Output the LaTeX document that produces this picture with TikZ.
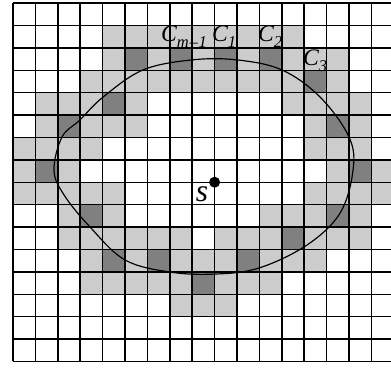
\documentclass[tikz,border=0pt]{standalone}
\usepackage{fontspec}
\setmainfont{Liberation Serif}
\newcommand\csub[1]{\raisebox{-3.8pt}{\fontsize{10.5}{11}\selectfont\itshape #1}}
\begin{document}
\begin{tikzpicture}[x=0.5cm,y=0.5cm,
  lightcell/.style={fill=black!20},
  darkcell/.style={fill=black!50},
  gridline/.style={line width=0.9pt, black},
  curveline/.style={line width=0.75pt, black},
  lab/.style={inner sep=0pt, anchor=base west, font=\fontsize{15}{16}\selectfont\itshape},
  ]
\useasboundingbox (-0.580,0.134) rectangle (16.875,-16.339);
\clip (-0.580,0.134) rectangle (16.875,-16.339);
% light cells: row/first col/last col
\foreach \r/\a/\b in {1/4/12, 2/4/14, 3/3/14, 4/1/5, 4/12/15, 5/1/5, 5/13/15,
  6/0/3, 6/13/15, 7/0/2, 7/14/16, 8/0/4, 8/13/16, 9/2/4, 9/11/15,
  10/2/7, 10/9/15, 11/3/13, 12/3/11, 13/7/9}
  \fill[lightcell] (\a,-\r) rectangle (\b+1,-\r-1);
% dark cells: row/col
\foreach \r/\c in {2/5, 2/7, 2/9, 2/11, 3/13, 4/4, 5/2, 5/14, 7/1, 7/15,
  9/3, 9/14, 10/12, 11/4, 11/6, 11/10, 12/8}
  \fill[darkcell] (\c,-\r) rectangle (\c+1,-\r-1);
% grid
\draw[gridline, step=1] (0,0) grid (17,-16);
% closed curve
\draw[curveline] plot[smooth cycle, tension=0.6] coordinates {
  (1.83,-7.46) (2.19,-5.98) (2.99,-5.22) (4.02,-4.20) (5.80,-2.99)
  (7.99,-2.54) (10.00,-2.54) (12.01,-2.99) (13.71,-4.20) (15.00,-5.98)
  (15.18,-7.46) (14.60,-9.38) (13.13,-10.80) (10.98,-11.83) (9.02,-12.10)
  (7.01,-12.01) (5.00,-11.47) (3.44,-10.00) (2.28,-8.57)};
% source point
\node[circle, fill=black, inner sep=0pt, minimum size=2.45mm] (s) at (9,-8) {};
\node[lab, font=\fontsize{20}{21}\selectfont\itshape] (slab) at (8.15,-8.88) {s};
% labels
\node[lab] (cm1) at (6.60,-1.70) {C\csub{m\kern0.5pt–\kern0.5pt1}};
\node[lab] (c1) at (8.88,-1.70) {C\csub{1}};
\node[lab] (c2) at (10.93,-1.70) {C\csub{2}};
\node[lab] (c3) at (12.94,-2.77) {C\csub{3}};
\end{tikzpicture}
\end{document}
